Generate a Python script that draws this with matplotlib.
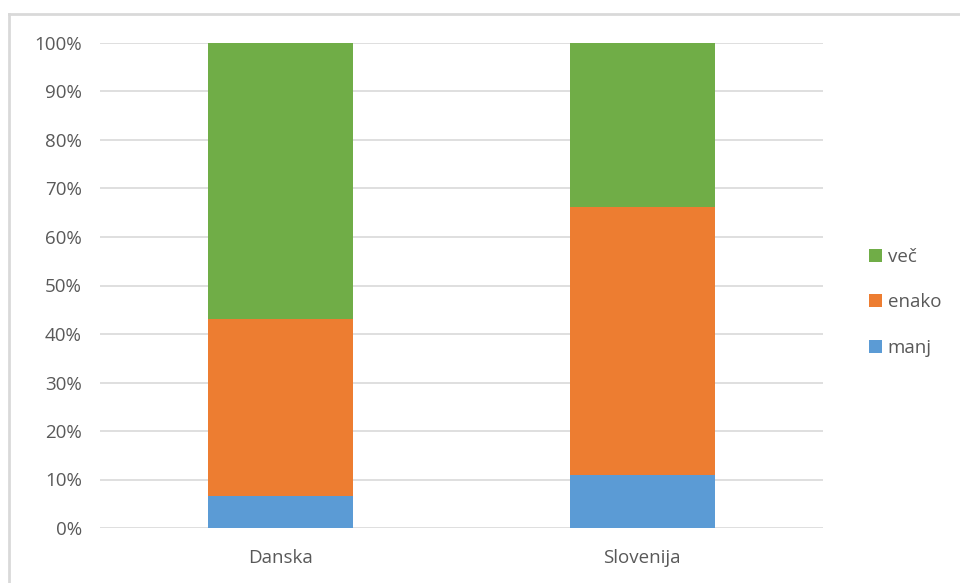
import matplotlib.pyplot as plt
from matplotlib.lines import Line2D
from matplotlib.ticker import PercentFormatter

plt.rcParams["font.family"] = ["Open Sans", "DejaVu Sans"]

categories = ["Danska", "Slovenija"]
series_names = ["manj", "enako", "več"]
manj = [6.7, 10.9]
enako = [36.4, 55.3]
vec = [56.9, 33.8]
colors = ["#5b9bd5", "#ed7d31", "#70ad47"]
text_color = "#595959"
grid_color = "#d9d9d9"

W, H = 960, 583
fig = plt.figure(figsize=(W / 100, H / 100), dpi=100)
ax = fig.add_axes([100 / W, 1 - 528 / H, 723 / W, 485 / H])

x = range(len(categories))
bottom = [0, 0]
handles = []
for name, vals, col in zip(series_names, [manj, enako, vec], colors):
    b = ax.bar(x, vals, width=0.4, bottom=bottom, color=col, label=name, zorder=2)
    handles.append(b)
    bottom = [p + q for p, q in zip(bottom, vals)]

ax.set_xlim(-0.5, 1.5)
ax.set_ylim(0, 100)
ax.set_yticks(range(0, 101, 10))
ax.yaxis.set_major_formatter(PercentFormatter(decimals=0))
ax.set_xticks(list(x))
ax.set_xticklabels(categories)
ax.grid(axis="y", color=grid_color, linewidth=1.2, zorder=0)
for s in ax.spines.values():
    s.set_visible(False)
ax.tick_params(length=0, colors=text_color, labelsize=13.5)
ax.tick_params(axis="y", pad=13)
ax.tick_params(axis="x", pad=15)

leg = ax.legend(handles=handles[::-1], loc="center left", bbox_to_anchor=(1.04, 0.465),
                frameon=False, fontsize=13.5, labelcolor=text_color,
                handlelength=0.7, handleheight=0.7, handletextpad=0.3,
                labelspacing=1.45)

# outer chart border (top and left visible)
fig.add_artist(Line2D([8.5 / W, 8.5 / W], [0, 1 - 13.5 / H], color=grid_color, lw=2))
fig.add_artist(Line2D([8.5 / W, 1], [1 - 13.5 / H, 1 - 13.5 / H], color=grid_color, lw=2))

fig.savefig("out.png", dpi=100)
